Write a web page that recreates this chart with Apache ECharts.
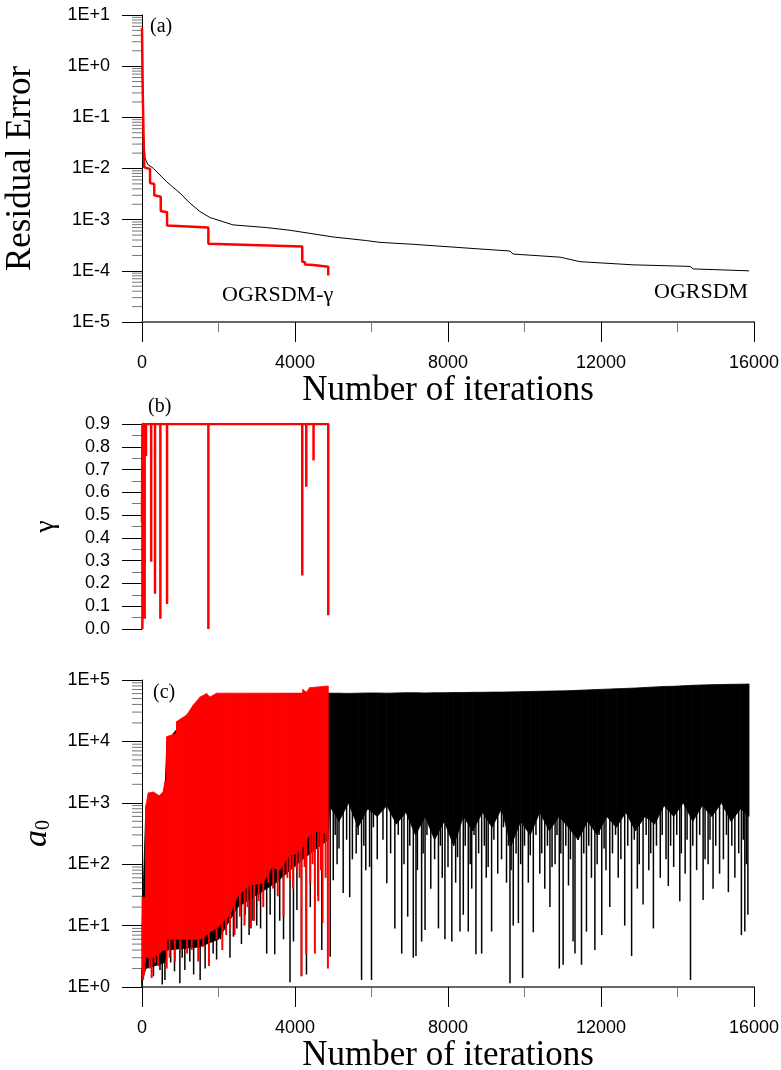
<!DOCTYPE html>
<html>
<head>
<meta charset="utf-8">
<style>
  html, body { margin: 0; padding: 0; background: #fff; }
  #main { width: 781px; height: 1070px; }
</style>
<script src="https://cdn.jsdelivr.net/npm/echarts@6/dist/echarts.min.js"></script>
</head>
<body>
<div id="main"></div>
<script>
// ---- (a) residual error ----
var resBlackIter = [0, 15, 30, 80, 150, 296, 645, 993, 1255, 1516, 1777, 2380, 3260, 3870, 3900, 4990, 5870, 6220, 7090, 7120, 8750, 9620, 9700, 10930, 11450, 12840, 14330, 14410, 15870];
var resBlackVal = [3, 0.3, 0.056, 0.016, 0.012, 0.0101, 0.0055, 0.0033, 0.0021, 0.00144, 0.0011, 0.00079, 0.0007, 0.00062, 0.00057, 0.00046, 0.00039, 0.00036, 0.00033, 0.000318, 0.00027, 0.000244, 0.000213, 0.000185, 0.000151, 0.000131, 0.000122, 0.000109, 0.0001];
var resRedIter = [0, 20, 45, 60, 210, 210, 320, 320, 490, 490, 655, 655, 1735, 1735, 4190, 4190, 4260, 4260, 4480, 4480, 4870, 4870];
var resRedVal = [5.6, 0.3, 0.03, 0.0105, 0.0098, 0.0052, 0.005, 0.003, 0.0028, 0.00148, 0.0014, 0.00077, 0.0007, 0.00034, 0.0003, 0.000151, 0.000148, 0.000133, 0.00013, 0.000122, 0.00012, 0.000081];

// ---- (b) gamma ----
var gammaStart = 0.47;
var gammaDipIter = [10, 70, 105, 240, 340, 480, 655, 1735, 4190, 4295, 4485];
var gammaDipVal = [0.0, 0.045, 0.76, 0.295, 0.155, 0.045, 0.11, 0.0, 0.235, 0.625, 0.74];
var gammaTop = 0.9;
var gammaEndIter = 4870;
var gammaEndVal = 0.06;

// ---- (c) a0: solid band (top / floor) plus spikes below it ----
var redBandIter  = [0, 90, 95, 165, 300, 450, 550, 600, 645, 650, 900, 905, 1170, 1340, 1520, 1690, 1780, 1950, 2300, 2500, 2800, 3170, 3400, 3600, 3850, 4050, 4200, 4210, 4300, 4380, 4600, 4870];
var redBandTop   = [29, 29, 870, 1450, 1500, 1300, 1500, 2200, 2200, 12000, 13500, 21000, 27000, 39000, 53000, 60000, 53000, 61000, 61000, 61000, 61000, 61000, 61000, 61000, 61000, 61000, 61000, 70000, 63000, 75000, 77000, 80000];
var redBandFloor = [1.5, 2.5, 3, 3, 3, 3.5, 4, 4, 4, 6, 6, 6, 6, 6, 6, 7, 8, 9, 15, 30, 45, 50, 90, 80, 140, 150, 200, 200, 250, 300, 350, 300];
var redSpikeIter = [30, 52, 200, 253, 340, 420, 645, 720, 860, 1000, 1180, 1300, 1470, 1600, 1750, 1950, 2100, 2200, 2300, 2420, 2560, 2680, 2760, 2850, 2930, 3050, 3170, 3300, 3430, 3550, 3700, 3800, 3870, 3950, 4040, 4120, 4170, 4250, 4290, 4400, 4460, 4520, 4610, 4680, 4720, 4800, 4860];
var redSpikeLow  = [1.3, 1.6, 2, 1.4, 2.5, 2.2, 2, 3, 2.6, 4, 3.5, 4, 2.6, 4.5, 2.2, 6, 4, 7, 8.5, 7, 14, 10, 20, 9, 12, 25, 20, 50, 40, 30, 14, 60, 55, 40, 85, 60, 1.5, 90, 3.5, 50, 100, 3.5, 25, 80, 11, 60, 2];

var blackBandIter  = [0, 100, 600, 650, 1500, 2000, 2500, 3500, 4200, 4870,
  4900, 5150, 5400, 5650, 5900, 6150, 6400, 6650, 6900, 7150, 7400, 7650, 7900, 8150, 8400, 8650, 8900, 9150, 9400, 9650,
  9900, 10150, 10400, 10650, 10900, 11150, 11400, 11650, 11900, 12150, 12400, 12650, 12900, 13150, 13400, 13650, 13900,
  14150, 14400, 14650, 14900, 15150, 15400, 15650, 15870];
var blackBandTop   = [10, 800, 1500, 10000, 45000, 55000, 58000, 59000, 60000, 61000,
  61000, 61000, 60500, 61000, 61500, 61500, 61000, 61500, 62000, 62000, 61500, 62000, 62000, 62500, 62500, 63000, 63000, 63500, 63500, 64000,
  64500, 65000, 65500, 66000, 66500, 67000, 68000, 69000, 70000, 71000, 72000, 73000, 74000, 75500, 77000, 78500, 79000,
  80500, 82000, 83000, 84000, 84500, 85000, 85500, 86000];
var blackBandFloor = [1.2, 2, 2.5, 4, 4.5, 6, 20, 50, 120, 250,
  900, 500, 1000, 400, 800, 600, 900, 450, 700, 300, 600, 250, 500, 200, 600, 350, 700, 400, 800, 200,
  500, 300, 700, 350, 600, 400, 250, 500, 300, 600, 400, 700, 350, 600, 450, 900, 600,
  1000, 500, 900, 600, 1000, 500, 800, 600];
var blackSpikeIter = [0, 165, 300, 470, 530, 600, 750, 850, 990, 1050, 1120, 1250, 1350, 1520, 1650, 1750, 1860, 1950, 2050, 2200, 2300, 2390, 2480, 2600, 2700, 2800, 2900, 3000, 3100, 3260, 3350, 3470, 3600, 3700, 3870, 3960, 4050, 4170, 4300, 4400, 4600, 4700,
  4920, 5000, 5050, 5100, 5150, 5260, 5350, 5430, 5500, 5600, 5650, 5740, 5800, 5850, 5950, 6000, 6050, 6150, 6300, 6400, 6500, 6610, 6700, 6790, 6850, 6946, 7000, 7093, 7163, 7200, 7310, 7350, 7400, 7450, 7550, 7650, 7750, 7800, 7850, 7920,
  8000, 8100, 8150, 8200, 8250, 8313, 8400, 8450, 8530, 8580, 8620, 8680, 8730, 8800, 8880, 8950, 9000, 9050, 9140, 9200, 9300, 9400, 9450, 9530, 9580, 9620, 9650, 9706, 9780, 9840, 9900, 9950,
  10000, 10100, 10150, 10230, 10300, 10400, 10450, 10530, 10600, 10665, 10720, 10800, 10850, 10910, 10950, 11010, 11080, 11150, 11200, 11270, 11320, 11400, 11490, 11550, 11620, 11680, 11750, 11840, 11900, 11950,
  12020, 12080, 12130, 12230, 12300, 12380, 12450, 12520, 12620, 12700, 12800, 12870, 12950, 13000, 13100, 13180, 13250, 13300, 13370, 13450, 13550, 13600, 13700, 13760, 13820, 13900, 13980,
  14060, 14100, 14200, 14250, 14340, 14400, 14500, 14580, 14670, 14720, 14800, 14850, 14930, 15000, 15100, 15200, 15280, 15330, 15420, 15500, 15600, 15670, 15720, 15760, 15800, 15840];
var blackSpikeLow  = [1.0, 2.1, 1.5, 1.9, 1.1, 1.3, 2.5, 1.8, 1.15, 3, 1.9, 2.6, 1.6, 1.3, 2, 4, 3.5, 2.8, 6, 8, 3, 6.6, 9, 5, 15, 7, 12, 10, 9, 3.5, 15, 3.4, 12, 6, 1.2, 5.5, 18, 1.5, 1.6, 20, 30, 4,
  3.1, 55, 300, 100, 180, 34, 250, 29, 120, 150, 300, 1.3, 200, 80, 90, 1.3, 400, 120, 250, 49, 150, 9, 300, 3.5, 100, 14, 200, 3, 3.2, 80, 5.5, 150, 8.5, 300, 40, 120, 9, 200, 60, 6,
  90, 5.5, 250, 50, 130, 8, 15, 200, 8, 100, 40, 300, 3.4, 150, 3.5, 200, 60, 90, 8, 250, 70, 120, 400, 50, 200, 1.15, 80, 10, 150, 11, 100, 1.4,
  200, 50, 140, 7.8, 300, 70, 150, 40, 200, 20, 90, 100, 300, 2, 150, 2.3, 200, 45, 120, 5.5, 3.5, 250, 2.3, 150, 8, 200, 60, 4, 100, 300,
  7, 180, 80, 20, 150, 300, 60, 120, 10, 200, 3.2, 250, 40, 100, 22, 300, 80, 150, 9, 200, 60, 300, 120, 44, 200, 90, 300,
  25, 150, 70, 250, 1.3, 200, 80, 300, 26, 120, 100, 250, 40, 200, 70, 120, 300, 35, 200, 60, 150, 7, 250, 8, 100, 15];

// ---- axes ----
var xTicks = [0, 4000, 8000, 12000, 16000];
var resTickLabels = ['1E-5', '1E-4', '1E-3', '1E-2', '1E-1', '1E+0', '1E+1'];
var a0TickLabels = ['1E+0', '1E+1', '1E+2', '1E+3', '1E+4', '1E+5'];
var gammaTickLabels = ['0.0', '0.1', '0.2', '0.3', '0.4', '0.5', '0.6', '0.7', '0.8', '0.9'];
var logMinorSteps = [2, 3, 4, 5, 6, 7, 8, 9];

var chartDom = document.getElementById('main');
var myChart = echarts.init(chartDom, null, { renderer: 'canvas' });

var LABEL_FONT = 'Liberation Sans';
var SERIF = 'Liberation Serif';

function pairs(xs, ys) {
  return xs.map(function (x, i) { return [x, ys[i]]; });
}

function gammaData() {
  var d = [[0, gammaStart]];
  gammaDipIter.forEach(function (x, i) {
    d.push([x, gammaTop], [x, gammaDipVal[i]], [x, gammaTop]);
  });
  d.push([gammaEndIter, gammaTop], [gammaEndIter, gammaEndVal]);
  return d;
}

function bandData(iters, tops, floors) {
  var d = [];
  for (var i = 0; i < iters.length - 1; i++) {
    d.push([iters[i], tops[i], floors[i], iters[i + 1], tops[i + 1], floors[i + 1]]);
  }
  return d;
}

// a spike runs from its low value up into the solid band
function spikeData(xs, lows, bandIters, bandFloors) {
  return xs.map(function (x, i) {
    var j = 0;
    while (j < bandIters.length - 2 && bandIters[j + 1] < x) j++;
    var hi = Math.max(bandFloors[j], bandFloors[j + 1]);
    return [x, lows[i], hi];
  });
}

function minorLogTicks(minExp, maxExp) {
  var d = [];
  for (var e = minExp; e < maxExp; e++) {
    logMinorSteps.forEach(function (m) { d.push([0, m * Math.pow(10, e)]); });
  }
  return d;
}

function bandRender(color) {
  return function (params, api) {
    var a = api.coord([api.value(0), api.value(1)]);
    var b = api.coord([api.value(3), api.value(4)]);
    var c = api.coord([api.value(3), api.value(5)]);
    var d = api.coord([api.value(0), api.value(2)]);
    return {
      type: 'polygon',
      shape: { points: [a, b, c, d] },
      style: { fill: color, stroke: color, lineWidth: 0.8 }
    };
  };
}

function spikeRender(color, width) {
  return function (params, api) {
    var p1 = api.coord([api.value(0), api.value(1)]);
    var p2 = api.coord([api.value(0), api.value(2)]);
    return {
      type: 'line',
      shape: { x1: p1[0], y1: p1[1], x2: p2[0], y2: p2[1] },
      style: { stroke: color, lineWidth: width }
    };
  };
}

function tickRender(params, api) {
  var p = api.coord([api.value(0), api.value(1)]);
  return {
    type: 'line',
    shape: { x1: p[0] - 10, y1: p[1], x2: p[0], y2: p[1] },
    style: { stroke: '#777', lineWidth: 1 }
  };
}

function logLabel(labels, minExp) {
  return function (v) {
    var e = Math.round(Math.log10(v));
    return labels[e - minExp] || '';
  };
}

var xAxisCommon = {
  type: 'value',
  min: 0,
  max: 16000,
  interval: 4000,
  axisLine: { lineStyle: { color: '#666', width: 2 } },
  axisTick: { length: 20, lineStyle: { color: '#000', width: 1 } },
  minorTick: { show: true, splitNumber: 2, length: 10, lineStyle: { color: '#777', width: 1 } },
  splitLine: { show: false },
  axisLabel: {
    margin: 32,
    fontFamily: LABEL_FONT,
    fontSize: 18,
    color: '#000',
    formatter: function (v) { return xTicks.indexOf(v) >= 0 ? String(v) : ''; }
  },
  name: 'Number of iterations',
  nameLocation: 'middle',
  nameGap: 48,
  nameTextStyle: { fontFamily: SERIF, fontSize: 35, color: '#000' }
};

var yAxisCommon = {
  axisLine: { show: true, lineStyle: { color: '#000', width: 1 } },
  axisTick: { length: 20, lineStyle: { color: '#000', width: 1 } },
  splitLine: { show: false },
  nameLocation: 'middle',
  nameTextStyle: { fontFamily: SERIF, color: '#000' },
  axisLabel: { margin: 32, fontFamily: LABEL_FONT, fontSize: 18, color: '#000' }
};

var option = {
  animation: false,
  backgroundColor: '#fff',
  grid: [
    { left: 142, top: 15, width: 612, height: 307, outerBoundsMode: 'none', containLabel: false },
    { left: 142, top: 424, width: 612, height: 205, outerBoundsMode: 'none', containLabel: false },
    { left: 142, top: 680, width: 612, height: 307, outerBoundsMode: 'none', containLabel: false }
  ],
  xAxis: [
    Object.assign({}, xAxisCommon, { gridIndex: 0 }),
    { type: 'value', gridIndex: 1, min: 0, max: 16000, show: false },
    Object.assign({}, xAxisCommon, { gridIndex: 2 })
  ],
  yAxis: [
    Object.assign({}, yAxisCommon, {
      gridIndex: 0,
      type: 'log',
      logBase: 10,
      min: 1e-5,
      max: 10,
      splitNumber: 6,
      name: 'Residual Error',
      nameGap: 104,
      nameTextStyle: { fontFamily: SERIF, fontSize: 35, color: '#000' },
      axisLabel: Object.assign({}, yAxisCommon.axisLabel, { formatter: logLabel(resTickLabels, -5) })
    }),
    Object.assign({}, yAxisCommon, {
      gridIndex: 1,
      type: 'value',
      min: 0,
      max: 0.9,
      interval: 0.1,
      name: 'γ',
      nameGap: 82,
      nameTextStyle: { fontFamily: SERIF, fontSize: 28, color: '#000' },
      minorTick: { show: true, splitNumber: 2, length: 10, lineStyle: { color: '#777', width: 1 } },
      axisLabel: Object.assign({}, yAxisCommon.axisLabel, {
        formatter: function (v) { return gammaTickLabels[Math.round(v * 10)] || ''; }
      })
    }),
    Object.assign({}, yAxisCommon, {
      gridIndex: 2,
      type: 'log',
      logBase: 10,
      min: 1,
      max: 1e5,
      splitNumber: 5,
      name: '{a|a}{s|0}',
      nameGap: 88,
      nameTextStyle: {
        color: '#000',
        rich: {
          a: { fontFamily: SERIF, fontStyle: 'italic', fontSize: 34, color: '#000' },
          s: { fontFamily: SERIF, fontSize: 20, color: '#000', verticalAlign: 'bottom', padding: [12, 0, 0, 0] }
        }
      },
      axisLabel: Object.assign({}, yAxisCommon.axisLabel, { formatter: logLabel(a0TickLabels, 0) })
    })
  ],
  series: [
    // minor log ticks
    { type: 'custom', xAxisIndex: 0, yAxisIndex: 0, silent: true, clip: false, renderItem: tickRender, data: minorLogTicks(-5, 1) },
    { type: 'custom', xAxisIndex: 2, yAxisIndex: 2, silent: true, clip: false, renderItem: tickRender, data: minorLogTicks(0, 5) },
    // (a)
    {
      name: 'OGRSDM', type: 'line', xAxisIndex: 0, yAxisIndex: 0, showSymbol: false, silent: true,
      lineStyle: { color: '#000', width: 1 }, data: pairs(resBlackIter, resBlackVal)
    },
    {
      name: 'OGRSDM-γ', type: 'line', xAxisIndex: 0, yAxisIndex: 0, showSymbol: false, silent: true,
      lineStyle: { color: '#ff0000', width: 2.5 }, data: pairs(resRedIter, resRedVal)
    },
    // (b)
    {
      name: 'gamma', type: 'line', xAxisIndex: 1, yAxisIndex: 1, showSymbol: false, silent: true,
      lineStyle: { color: '#ff0000', width: 2.5 }, data: gammaData()
    },
    // (c)
    {
      type: 'custom', xAxisIndex: 2, yAxisIndex: 2, silent: true,
      renderItem: bandRender('#000'),
      encode: { x: [0, 3], y: [1, 2, 4, 5] },
      data: bandData(blackBandIter, blackBandTop, blackBandFloor)
    },
    {
      type: 'custom', xAxisIndex: 2, yAxisIndex: 2, silent: true,
      renderItem: spikeRender('#000', 1.5),
      encode: { x: 0, y: [1, 2] },
      data: spikeData(blackSpikeIter, blackSpikeLow, blackBandIter, blackBandFloor)
    },
    {
      type: 'custom', xAxisIndex: 2, yAxisIndex: 2, silent: true,
      renderItem: bandRender('#ff0000'),
      encode: { x: [0, 3], y: [1, 2, 4, 5] },
      data: bandData(redBandIter, redBandTop, redBandFloor)
    },
    {
      type: 'custom', xAxisIndex: 2, yAxisIndex: 2, silent: true,
      renderItem: spikeRender('#ff0000', 2),
      encode: { x: 0, y: [1, 2] },
      data: spikeData(redSpikeIter, redSpikeLow, redBandIter, redBandFloor)
    }
  ],
  graphic: [
    { type: 'text', left: 150, top: 17, style: { text: '(a)', font: '20px "Liberation Serif"', fill: '#000' } },
    { type: 'text', left: 148, top: 397, style: { text: '(b)', font: '20px "Liberation Serif"', fill: '#000' } },
    { type: 'text', left: 153, top: 683, style: { text: '(c)', font: '20px "Liberation Serif"', fill: '#000' } },
    { type: 'text', left: 222, top: 284, style: { text: 'OGRSDM-γ', font: '22px "Liberation Serif"', fill: '#000' } },
    { type: 'text', left: 654, top: 281, style: { text: 'OGRSDM', font: '22px "Liberation Serif"', fill: '#000' } }
  ]
};

myChart.setOption(option);
</script>
</body>
</html>
